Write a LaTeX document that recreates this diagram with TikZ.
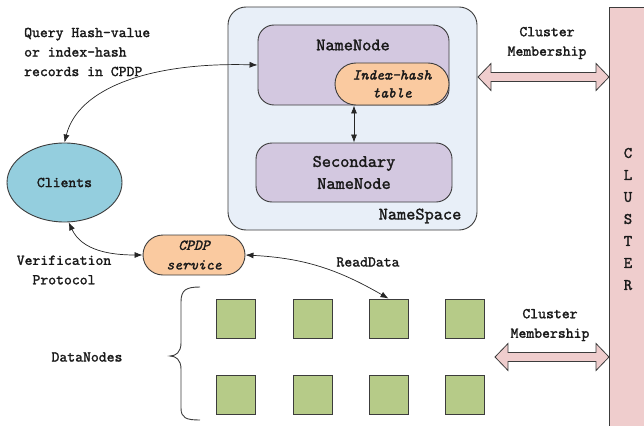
\documentclass[tikz,border=0pt]{standalone}
\usepackage{fontspec}
\setmonofont{lmmono10-regular.otf}[ItalicFont=lmmono10-italic.otf,
  BoldFont=lmmono10-regular.otf, BoldFeatures={FakeBold=1.6},
  BoldItalicFont=lmmono10-italic.otf, BoldItalicFeatures={FakeBold=1.6}]
\usetikzlibrary{arrows.meta,shapes.geometric}
\definecolor{edge}{RGB}{60,60,60}
\definecolor{nsblue}{RGB}{232,239,248}
\definecolor{lav}{RGB}{211,200,224}
\definecolor{peach}{RGB}{250,202,160}
\definecolor{cyanc}{RGB}{148,206,222}
\definecolor{greenc}{RGB}{182,203,136}
\definecolor{pinkc}{RGB}{239,205,205}
\begin{document}
\begin{tikzpicture}[x=1pt,y=-1pt,
  every node/.style={font=\ttfamily\bfseries\fontsize{15}{19.5}\selectfont, inner sep=0pt, text=black!90},
  big/.style={font=\ttfamily\bfseries\fontsize{17.5}{22}\selectfont},
  box/.style={draw=edge, line width=0.9pt},
  dn/.style={box, fill=greenc, minimum width=39pt, minimum height=39pt},
  arr/.style={{Latex[length=8pt,width=6pt]}-{Latex[length=8pt,width=6pt]}, line width=0.7pt, draw=black!85},
  fat/.style={fill=pinkc, draw=edge, line width=0.8pt}
]
\useasboundingbox (0,0) rectangle (644,425);
% cluster bar
\fill[pinkc] (609,7) rectangle (650,430);
\draw[edge, line width=0.9pt] (650,7) -- (609,7) -- (609,430);
\node[align=center, font=\ttfamily\bfseries\fontsize{16}{22}\selectfont] (cl) at (628,219) {C\\L\\U\\S\\T\\E\\R};

% namespace
\node[box, fill=nsblue, rounded corners=18pt, minimum width=249pt, minimum height=223pt] (NS) at (352.5,118.5) {};
\node[box, fill=lav, rounded corners=16pt, minimum width=191pt, minimum height=80pt] (NN) at (353.5,65) {};
\node[big] (nnl) at (353,45) {NameNode};
\node[box, fill=peach, rounded corners=21pt, minimum width=114pt, minimum height=42pt, align=center, font=\ttfamily\bfseries\itshape\fontsize{15}{18}\selectfont] (IH) at (392,84) {Index-hash\\table};
\node[box, fill=lav, rounded corners=16pt, minimum width=196pt, minimum height=59pt, align=center, big] (SN) at (354,172.5) {Secondary\\NameNode};
\node[big] (nsl) at (420,216) {NameSpace};
\draw[arr] (SN.north) -- (SN.north |- IH.south);

% clients and CPDP
\node[box, ellipse, fill=cyanc, minimum width=115pt, minimum height=79pt] (Clients) at (64.5,182.5) {Clients};
\node[box, fill=peach, rounded corners=20pt, minimum width=102pt, minimum height=40pt, align=center, font=\ttfamily\bfseries\itshape\fontsize{15}{19.5}\selectfont] (CPDP) at (194,255) {CPDP\\service};

\node[anchor=west, align=left] (q) at (24,52) {Query Hash-value\\or index-hash\\records in CPDP};
\node[align=center] (vp) at (64,270) {Verification\\Protocol};
\node (rd) at (368,262) {ReadData};

% data nodes
\foreach \i/\x in {1/235.5,2/312.5,3/388.5,4/465}{
  \node[dn] (sq\i) at (\x,318.5) {};
  \node[dn] (sr\i) at (\x,395) {};
}
\draw[line width=0.9pt, edge] (200,287) .. controls (186,287) and (181,290) .. (181,302) -- (181,343)
  .. controls (181,352) and (176,356) .. (170,356) .. controls (176,356) and (181,360) .. (181,369)
  -- (181,408) .. controls (181,418) and (186,420) .. (200,420);
\node (dnl) at (87,357) {DataNodes};

% connectors
\draw[arr] (NN.west) .. controls (150,62) and (78,88) .. (Clients.north);
\draw[arr] (Clients.-84) to[out=-65,in=180] (CPDP.west);
\draw[arr] (CPDP.east) to[out=-3,in=150] (sq3.north);

% cluster membership
\node[align=center] (cm1) at (547,43) {Cluster\\Membership};
\node[align=center] (cm2) at (550,325) {Cluster\\Membership};
\draw[fat] (478,77) -- (491,63.5) -- (491,72.5) -- (596,72.5) -- (596,63.5) -- (609,77)
  -- (596,90.5) -- (596,81.5) -- (491,81.5) -- (491,90.5) -- cycle;
\draw[fat] (495,357) -- (508,343.5) -- (508,352.5) -- (596,352.5) -- (596,343.5) -- (609,357)
  -- (596,370.5) -- (596,361.5) -- (508,361.5) -- (508,370.5) -- cycle;
\end{tikzpicture}
\end{document}
